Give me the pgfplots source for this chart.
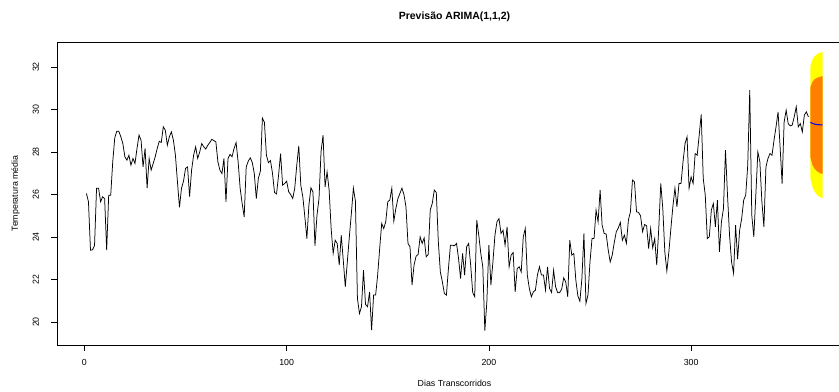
\documentclass[border=0pt]{standalone}
\usepackage{pgfplots}
\pgfplotsset{compat=1.18}
\usepackage{pgfplotstable}
\usepackage{fontspec}
\setmainfont{Liberation Sans}
\definecolor{fanyellow}{HTML}{FFFF00}
\definecolor{fanorange}{HTML}{FF8000}

\pgfplotstableread{
x y
1 26.05
2 25.66
3 23.38
4 23.40
5 23.60
6 26.30
7 26.30
8 25.66
9 25.90
10 25.80
11 23.38
12 25.97
13 25.97
14 27.54
15 28.67
16 28.98
17 28.98
18 28.72
19 28.40
20 27.78
21 27.62
22 27.85
23 27.38
24 27.70
25 27.46
26 28.17
27 28.80
28 28.56
29 27.30
30 28.17
31 26.30
32 27.70
33 27.15
34 27.46
35 27.78
36 28.17
37 28.51
38 28.45
39 29.19
40 29.03
41 28.32
42 28.72
43 28.95
44 28.56
45 27.85
46 26.60
47 25.40
48 26.30
49 26.63
50 27.23
51 27.30
52 25.90
53 27.15
54 27.85
55 28.25
56 27.70
57 28.00
58 28.40
59 28.25
60 28.14
61 28.32
62 28.45
63 28.60
64 28.54
65 28.48
66 27.54
67 27.15
68 26.99
69 27.70
70 25.66
71 27.70
72 27.89
73 27.78
74 28.17
75 28.45
76 27.54
77 26.30
78 25.58
79 24.95
80 27.30
81 27.57
82 27.73
83 27.51
84 26.99
85 25.81
86 26.76
87 27.10
88 29.60
89 29.40
90 27.85
91 27.50
92 27.60
93 27.00
94 26.10
95 26.03
96 26.91
97 27.93
98 26.44
99 26.52
100 26.63
101 26.13
102 26.00
103 25.81
104 26.30
105 27.38
106 28.29
107 26.44
108 25.89
109 24.95
110 23.93
111 25.50
112 26.32
113 26.13
114 23.59
115 25.03
116 25.81
117 28.01
118 28.80
119 26.36
120 27.07
121 26.21
122 24.40
123 23.23
124 23.85
125 23.70
126 22.68
127 24.09
128 22.90
129 21.66
130 22.83
131 24.01
132 25.11
133 26.30
134 25.70
135 21.11
136 20.40
137 20.72
138 22.44
139 20.83
140 20.72
141 21.42
142 19.62
143 21.27
144 21.27
145 22.21
146 23.46
147 24.64
148 24.40
149 24.72
150 25.66
151 25.74
152 26.30
153 24.75
154 25.34
155 25.81
156 26.05
157 26.30
158 26.00
159 25.42
160 23.70
161 23.54
162 21.74
163 22.68
164 23.10
165 23.18
166 24.01
167 23.70
168 23.96
169 23.07
170 23.18
171 25.27
172 25.58
173 26.21
174 26.10
175 23.78
176 22.36
177 21.89
178 21.34
179 21.27
180 22.52
181 23.62
182 23.62
183 23.59
184 23.70
185 22.99
186 22.05
187 23.23
188 22.21
189 23.54
190 23.70
191 22.68
192 21.39
193 21.19
194 24.80
195 24.09
196 23.23
197 22.60
198 19.60
199 20.95
200 23.62
201 21.74
202 22.83
203 24.09
204 24.72
205 24.87
206 24.17
207 24.32
208 23.62
209 24.48
210 22.60
211 23.15
212 23.27
213 21.42
214 22.52
215 22.60
216 22.36
217 24.01
218 24.40
219 22.21
220 21.58
221 21.19
222 21.42
223 21.50
224 22.21
225 22.60
226 22.21
227 22.21
228 21.50
229 22.60
230 21.58
231 21.39
232 22.44
233 21.66
234 21.38
235 21.39
236 21.55
237 22.08
238 21.89
239 21.19
240 23.85
241 23.15
242 23.23
243 21.97
244 21.23
245 20.98
246 22.05
247 24.17
248 20.87
249 21.27
250 22.83
251 23.93
252 23.93
253 25.27
254 24.72
255 26.21
256 24.56
257 24.17
258 24.14
259 23.40
260 22.83
261 23.15
262 23.74
263 24.25
264 24.43
265 24.69
266 23.85
267 24.09
268 23.70
269 24.80
270 25.19
271 26.68
272 26.60
273 25.19
274 25.16
275 25.00
276 24.25
277 24.59
278 24.53
279 23.46
280 24.40
281 23.49
282 23.93
283 22.68
284 24.40
285 26.52
286 25.34
287 23.30
288 22.40
289 23.30
290 24.40
291 25.45
292 26.30
293 25.42
294 26.52
295 26.52
296 27.54
297 28.40
298 28.72
299 26.30
300 26.83
301 26.52
302 27.93
303 27.85
304 28.80
305 29.77
306 26.76
307 25.97
308 23.93
309 24.01
310 25.27
311 25.58
312 24.48
313 25.74
314 23.30
315 24.72
316 25.34
317 28.09
318 25.97
319 24.09
320 22.83
321 22.29
322 24.56
323 22.96
324 24.32
325 24.87
326 25.74
327 25.97
328 27.38
329 30.91
330 25.03
331 24.01
332 25.97
333 28.01
334 27.54
335 25.66
336 24.48
337 27.30
338 27.70
339 27.93
340 27.85
341 28.56
342 29.19
343 29.89
344 28.25
345 26.52
346 29.42
347 29.97
348 29.34
349 29.23
350 29.27
351 29.66
352 30.13
353 29.19
354 29.34
355 28.95
356 29.74
357 29.89
358 29.66
}\serie

\begin{document}
\fontsize{8.8bp}{10bp}\selectfont
\begin{tikzpicture}
\path[use as bounding box] (0,0) rectangle (839bp,392bp);
\clip (0,0) rectangle (839bp,392bp);
\begin{axis}[
  at={(57bp,47bp)}, anchor=south west,
  scale only axis, width=795bp, height=303bp,
  xmin=-13.56, xmax=379.56, ymin=18.92, ymax=33.18,
  xtick={0,100,200,300}, ytick={20,22,24,26,28,30,32},
  xtick pos=left, ytick pos=left,
  tick align=outside, major tick length=6bp,
  tick style={black, line width=0.75bp},
  axis line style={black, line width=0.75bp},
  /pgf/number format/assume math mode=true,
  xticklabel style={anchor=base, yshift=-14bp},
  yticklabel style={xshift=-12bp, rotate=90, anchor=base},
  title={Previsão ARIMA(1,1,2)},
  title style={at={(axis description cs:0.5,1.0545)}, anchor=base, font=\fontsize{10.5bp}{12bp}\selectfont\bfseries},
  xlabel={Dias Transcorridos},
  xlabel style={at={(axis description cs:0.5,-0.137)}, anchor=base},
  ylabel={Temperatura média},
  ylabel style={at={(axis description cs:-0.0491,0.5)}, anchor=base},
]
\addplot[black, line width=0.75bp] table[x=x, y=y] {\serie};
\addplot[fill=fanyellow, draw=none] coordinates {
  (359,32.05) (360,32.35) (361,32.50) (362,32.58) (363,32.64) (364,32.68) (365,32.72)
  (365,25.82) (364,25.87) (363,25.93) (362,26.02) (361,26.15) (360,26.35) (359,26.75)
} -- cycle;
\addplot[fill=fanorange, draw=none] coordinates {
  (359,31.05) (360,31.30) (361,31.42) (362,31.48) (363,31.52) (364,31.55) (365,31.57)
  (365,26.97) (364,27.00) (363,27.05) (362,27.12) (361,27.22) (360,27.40) (359,27.75)
} -- cycle;
\addplot[blue, line width=1.1bp] coordinates {
  (359,29.40) (360,29.35) (361,29.32) (362,29.30) (363,29.29) (364,29.28) (365,29.28)
};
\end{axis}
\end{tikzpicture}
\end{document}
